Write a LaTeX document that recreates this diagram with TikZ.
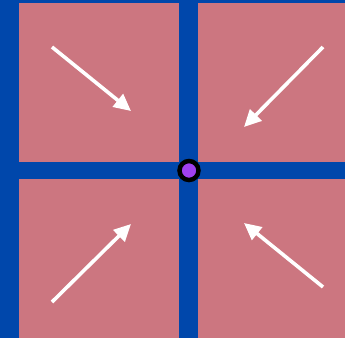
\documentclass[tikz,border=0pt]{standalone}
\usepackage{tikz}
\usetikzlibrary{arrows.meta,positioning}
\definecolor{stripblue}{RGB}{0,71,171}
\definecolor{tilepink}{RGB}{204,118,128}
\definecolor{dotpurple}{RGB}{160,64,240}

\begin{document}
\begin{tikzpicture}[x=1pt,y=-1pt,
  tile/.style={fill=tilepink,draw=none,anchor=north west,inner sep=0pt,outer sep=0pt},
  pointer/.style={draw=white,line width=3.6pt,-{Triangle[length=17pt,width=16pt]}}]
  \fill[stripblue] (0,0) rectangle (345,338);
  \useasboundingbox (0,0) rectangle (345,338);

  \node[tile,minimum width=160pt,minimum height=159pt] (tl) at (19,3) {};
  \node[tile,minimum width=147pt,minimum height=159pt] (tr) at (198,3) {};
  \node[tile,minimum width=160pt,minimum height=159pt] (bl) at (19,179) {};
  \node[tile,minimum width=147pt,minimum height=159pt] (br) at (198,179) {};

  \node[circle,draw=black,line width=4.5pt,fill=dotpurple,minimum size=19pt,inner sep=0pt] (hub) at (189,170.5) {};

  \coordinate (tlA) at (52,47);   \coordinate (tlB) at (131,111);
  \coordinate (trA) at (323,47);  \coordinate (trB) at (244,127);
  \coordinate (blA) at (52,302);  \coordinate (blB) at (131,224);
  \coordinate (brA) at (323,287); \coordinate (brB) at (244,223);

  \draw[pointer] (tlA) -- (tlB);
  \draw[pointer] (trA) -- (trB);
  \draw[pointer] (blA) -- (blB);
  \draw[pointer] (brA) -- (brB);
\end{tikzpicture}
\end{document}
